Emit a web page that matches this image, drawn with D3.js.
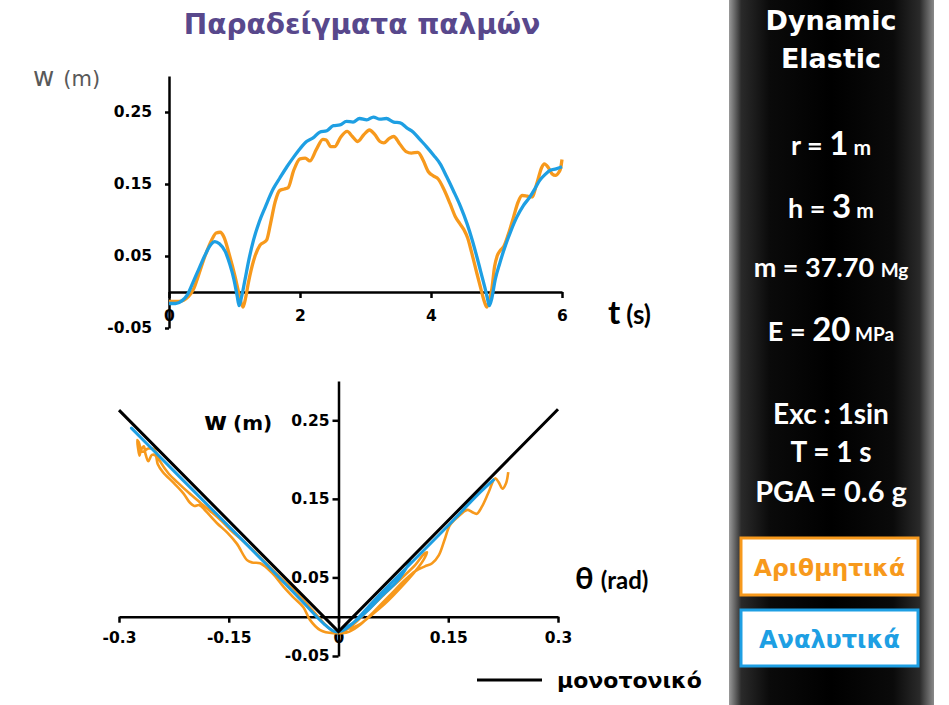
<!DOCTYPE html>
<html>
<head>
<meta charset="utf-8">
<script src="https://cdn.jsdelivr.net/npm/d3@7"></script>
<style>
  html, body { margin: 0; padding: 0; background: #fff; }
  svg { display: block; }
</style>
</head>
<body>
<svg id="chart" width="949" height="705"></svg>
<script>
// ---------- DATA ----------
// Top chart: w(t)
const tAnalytical = [0,0.1,0.2,0.28,0.36,0.47,0.57,0.64,0.70,0.77,0.86,0.93,0.99,1.04,1.07,1.10,1.16,1.22,1.29,1.38,1.47,1.59,1.69,1.80,1.90,2.00,2.10,2.20,2.30,2.41,2.51,2.61,2.71,2.81,2.91,3.02,3.12,3.22,3.32,3.43,3.53,3.63,3.73,3.83,3.93,4.04,4.14,4.24,4.34,4.45,4.55,4.63,4.70,4.76,4.82,4.86,4.89,4.93,4.98,5.05,5.13,5.22,5.31,5.41,5.51,5.59,5.66,5.74,5.82,5.91,6.0];
const wAnalytical = [-0.016,-0.016,-0.012,-0.004,0.012,0.035,0.055,0.066,0.070,0.067,0.056,0.038,0.018,-0.005,-0.019,-0.010,0.017,0.045,0.072,0.098,0.118,0.143,0.158,0.174,0.187,0.199,0.209,0.214,0.222,0.224,0.231,0.232,0.237,0.236,0.241,0.239,0.243,0.240,0.241,0.236,0.235,0.228,0.222,0.212,0.202,0.190,0.178,0.160,0.141,0.119,0.095,0.072,0.049,0.028,0.007,-0.008,-0.019,-0.008,0.017,0.040,0.063,0.085,0.104,0.120,0.132,0.144,0.155,0.163,0.169,0.171,0.174];

const tNumerical = [0,0.15,0.3,0.38,0.45,0.55,0.65,0.72,0.78,0.84,0.92,1.01,1.07,1.13,1.17,1.21,1.31,1.39,1.49,1.55,1.62,1.69,1.76,1.82,1.90,2.00,2.08,2.15,2.25,2.35,2.40,2.47,2.53,2.62,2.72,2.80,2.88,2.97,3.06,3.14,3.22,3.28,3.36,3.43,3.52,3.62,3.70,3.80,3.88,3.96,4.04,4.11,4.20,4.29,4.37,4.44,4.50,4.56,4.62,4.70,4.76,4.81,4.85,4.89,4.93,4.97,5.01,5.06,5.11,5.18,5.26,5.33,5.39,5.47,5.54,5.62,5.69,5.73,5.79,5.85,5.90,5.95,5.98,6.0];
const wNumerical = [-0.013,-0.013,-0.006,0.005,0.023,0.050,0.072,0.082,0.083,0.076,0.052,0.021,-0.003,-0.021,-0.008,0.012,0.049,0.065,0.072,0.095,0.125,0.141,0.143,0.145,0.168,0.185,0.186,0.182,0.198,0.212,0.211,0.202,0.202,0.215,0.223,0.216,0.209,0.218,0.225,0.219,0.209,0.207,0.213,0.216,0.206,0.195,0.193,0.194,0.183,0.167,0.161,0.157,0.142,0.123,0.105,0.095,0.087,0.075,0.055,0.026,0.005,-0.012,-0.021,-0.012,0.005,0.035,0.050,0.058,0.063,0.080,0.104,0.125,0.134,0.133,0.132,0.152,0.173,0.178,0.173,0.164,0.162,0.166,0.172,0.184];

// Bottom chart: w(theta)
const thetaMonotonic = [-0.3, 0, 0.3];
const wMonotonic = [0.263, -0.019, 0.264];

const thetaAnalytical = [0.003,0.02,0.04,0.06,0.08,0.098,0.08,0.06,0.04,0.02,0.005,-0.005,-0.02,-0.05,-0.1,-0.15,-0.2,-0.25,-0.283,-0.25,-0.2,-0.15,-0.1,-0.05,-0.02,-0.005,0.005,0.02,0.05,0.1,0.15,0.19,0.213];
const wThetaAnalytical = [-0.017,-0.008,0.008,0.027,0.045,0.070,0.045,0.027,0.008,-0.008,-0.018,-0.019,-0.009,0.020,0.068,0.115,0.162,0.209,0.240,0.209,0.162,0.115,0.068,0.020,-0.009,-0.019,-0.018,-0.008,0.022,0.069,0.116,0.155,0.175];

const thetaNumerical = [0.004,0.015,0.03,0.045,0.064,0.086,0.105,0.116,0.121,0.117,0.105,0.085,0.062,0.04,0.02,0.005,
  -0.007,-0.025,-0.039,-0.048,-0.062,-0.075,-0.09,-0.107,-0.118,-0.125,-0.139,-0.152,-0.166,-0.18,-0.19,-0.197,-0.203,-0.212,-0.225,-0.24,-0.247,-0.25,-0.255,-0.26,-0.264,-0.266,-0.27,-0.272,-0.274,-0.275,
  -0.273,-0.268,-0.26,-0.252,-0.244,-0.232,-0.22,-0.205,-0.19,-0.176,-0.16,-0.145,-0.13,-0.115,-0.1,-0.085,-0.07,-0.055,-0.04,-0.028,-0.015,-0.005,
  0.005,0.015,0.03,0.05,0.07,0.09,0.105,0.118,0.128,0.137,0.145,0.152,0.163,0.176,0.183,0.189,0.196,0.205,0.214,0.219,0.224,0.229,0.232];
const wThetaNumerical = [-0.014,-0.015,-0.009,0.002,0.017,0.038,0.058,0.072,0.082,0.080,0.066,0.048,0.028,0.008,-0.010,-0.020,
  -0.021,-0.017,-0.004,0.012,0.025,0.038,0.055,0.068,0.069,0.072,0.093,0.107,0.119,0.133,0.142,0.141,0.145,0.157,0.170,0.184,0.194,0.205,0.206,0.198,0.208,0.217,0.212,0.205,0.215,0.225,
  0.222,0.210,0.214,0.213,0.198,0.182,0.171,0.158,0.146,0.135,0.122,0.108,0.096,0.083,0.069,0.055,0.042,0.028,0.013,0.000,-0.013,-0.020,
  -0.021,-0.019,-0.010,0.008,0.027,0.046,0.058,0.064,0.068,0.078,0.098,0.116,0.127,0.136,0.133,0.131,0.140,0.158,0.176,0.171,0.163,0.170,0.184];

const topXTicks = [0, 2, 4, 6];
const topYTicks = [-0.05, 0.05, 0.15, 0.25];
const botXTicks = [-0.3, -0.15, 0, 0.15, 0.3];
const botYTicks = [-0.05, 0.05, 0.15, 0.25];

const title = "Παραδείγματα παλμών";
const legendLabel = "μονοτονικό";
const numericalLabel = "Αριθμητικά";
const analyticalLabel = "Αναλυτικά";

// ---------- STYLE ----------
const ORANGE = "#F7991C";
const BLUE = "#1E9FE3";
const TICKFONT = "'DejaVu Sans', sans-serif";
const TICKSIZE = 15.5;

const svg = d3.select("#chart");

// ---------- Title ----------
svg.append("text").attr("x", 362).attr("y", 34).attr("text-anchor", "middle")
  .attr("font-family", TICKFONT).attr("font-weight", "bold").attr("font-size", 28)
  .attr("fill", "#58488C").text(title);

// ---------- Top chart ----------
const xT = d3.scaleLinear().domain([0, 6]).range([169, 562]);
const yT = d3.scaleLinear().domain([-0.05, 0.3]).range([328, 76]);

function styleAxis(g, fontSize) {
  g.select(".domain").attr("stroke", "#000").attr("stroke-width", 2.5);
  g.selectAll(".tick line").attr("stroke", "#000").attr("stroke-width", 2.5);
  g.selectAll(".tick text").attr("fill", "#000").attr("font-family", TICKFONT)
    .attr("font-weight", "bold").attr("font-size", fontSize);
}

const gTx = svg.append("g").attr("transform", `translate(0,${yT(0)})`)
  .call(d3.axisBottom(xT).tickValues(topXTicks).tickSize(6).tickSizeOuter(0).tickPadding(12).tickFormat(d => String(d)));
styleAxis(gTx, TICKSIZE);
const gTy = svg.append("g").attr("transform", `translate(${xT(0)},0)`)
  .call(d3.axisLeft(yT).tickValues(topYTicks).tickSize(4).tickSizeOuter(0).tickPadding(13).tickFormat(d => String(d)));
styleAxis(gTy, TICKSIZE);

const lineT = d3.line().x(d => xT(d[0])).y(d => yT(d[1])).curve(d3.curveMonotoneX);
svg.append("path").datum(d3.zip(tNumerical, wNumerical)).attr("d", lineT)
  .attr("fill", "none").attr("stroke", ORANGE).attr("stroke-width", 3.3).attr("stroke-linejoin", "round");
svg.append("path").datum(d3.zip(tAnalytical, wAnalytical)).attr("d", lineT)
  .attr("fill", "none").attr("stroke", BLUE).attr("stroke-width", 3.3).attr("stroke-linejoin", "round");

// y label top
const wl1 = svg.append("text").attr("x", 33).attr("y", 86).attr("fill", "#595959")
  .attr("font-family", TICKFONT);
wl1.append("tspan").attr("font-size", 26).text("w");
wl1.append("tspan").attr("font-size", 21).attr("dx", 9).text("(m)");

// x label top
const tl = svg.append("text").attr("x", 608).attr("y", 324).attr("fill", "#000")
  .attr("font-family", "Lato, sans-serif").attr("font-weight", "bold");
tl.append("tspan").attr("font-size", 33).text("t");
tl.append("tspan").attr("font-size", 26).attr("dx", 6).text("(s)");

// ---------- Bottom chart ----------
const xB = d3.scaleLinear().domain([-0.3, 0.3]).range([119, 558]);
const yB = d3.scaleLinear().domain([-0.05, 0.3]).range([656, 381]);

const gBx = svg.append("g").attr("transform", `translate(0,${yB(0)})`)
  .call(d3.axisBottom(xB).tickValues(botXTicks).tickSize(6).tickSizeOuter(0).tickPadding(9).tickFormat(d => String(d)));
styleAxis(gBx, TICKSIZE);
const gBy = svg.append("g").attr("transform", `translate(${xB(0)},0)`)
  .call(d3.axisLeft(yB).tickValues(botYTicks).tickSize(6).tickSizeOuter(0).tickPadding(3).tickFormat(d => String(d)));
styleAxis(gBy, TICKSIZE);

const lineB = d3.line().x(d => xB(d[0])).y(d => yB(d[1])).curve(d3.curveCatmullRom.alpha(0.5));
svg.append("path").datum(d3.zip(thetaNumerical, wThetaNumerical)).attr("d", lineB)
  .attr("fill", "none").attr("stroke", ORANGE).attr("stroke-width", 2.6).attr("stroke-linejoin", "round");
svg.append("path").datum(d3.zip(thetaAnalytical, wThetaAnalytical)).attr("d", lineB)
  .attr("fill", "none").attr("stroke", BLUE).attr("stroke-width", 3).attr("stroke-linejoin", "round");
svg.append("path").datum(d3.zip(thetaMonotonic, wMonotonic))
  .attr("d", d3.line().x(d => xB(d[0])).y(d => yB(d[1])))
  .attr("fill", "none").attr("stroke", "#000").attr("stroke-width", 3);

// y label bottom
const wl2 = svg.append("text").attr("x", 204).attr("y", 430).attr("fill", "#000")
  .attr("font-family", TICKFONT).attr("font-weight", "bold");
wl2.append("tspan").attr("font-size", 25).text("w");
wl2.append("tspan").attr("font-size", 20).attr("dx", 6).text("(m)");

// x label bottom
const thl = svg.append("text").attr("x", 575).attr("y", 589).attr("fill", "#000")
  .attr("font-family", "Lato, sans-serif").attr("font-weight", "bold");
thl.append("tspan").attr("font-size", 31).text("θ");
thl.append("tspan").attr("font-size", 24).attr("dx", 7).text("(rad)");

// legend
svg.append("line").attr("x1", 477).attr("x2", 542).attr("y1", 680).attr("y2", 680)
  .attr("stroke", "#000").attr("stroke-width", 3);
svg.append("text").attr("x", 557).attr("y", 688).attr("font-family", TICKFONT)
  .attr("font-weight", "bold").attr("font-size", 22).attr("fill", "#000").text(legendLabel);

// ---------- Right panel ----------
const defs = svg.append("defs");
const grad = defs.append("linearGradient").attr("id", "panelGrad").attr("x1", "0%").attr("x2", "100%");
[["0%", "#9a9a9a"], ["6%", "#2a2a2a"], ["20%", "#0a0a0a"], ["50%", "#000"], ["80%", "#0a0a0a"], ["93%", "#2a2a2a"], ["100%", "#8a8a8a"]]
  .forEach(([o, c]) => grad.append("stop").attr("offset", o).attr("stop-color", c));
svg.append("rect").attr("x", 729).attr("y", 0).attr("width", 205).attr("height", 705).attr("fill", "url(#panelGrad)");

const PX = 831;
function panelText(y, parts, family) {
  const t = svg.append("text").attr("x", PX).attr("y", y).attr("text-anchor", "middle")
    .attr("fill", "#fff").attr("font-weight", "bold").attr("font-family", family || "Lato, sans-serif");
  parts.forEach(([s, fs]) => t.append("tspan").attr("font-size", fs).text(s));
  return t;
}
panelText(30, [["Dynamic", 27]], TICKFONT);
panelText(68, [["Elastic", 27]], TICKFONT);
panelText(155, [["r = ", 27], ["1", 33], [" m", 21]]);
panelText(218, [["h = ", 27], ["3", 33], [" m", 21]]);
panelText(277, [["m = 37.70 ", 27], ["Mg", 19]]);
panelText(341, [["E = ", 27], ["20", 33], [" MPa", 19]]);
panelText(424, [["Exc : 1sin", 28]]);
panelText(462, [["T = 1 s", 28]]);
panelText(502, [["PGA = 0.6 g", 29]]);

svg.append("rect").attr("x", 741).attr("y", 538).attr("width", 177).attr("height", 57)
  .attr("fill", "#fff").attr("stroke", ORANGE).attr("stroke-width", 3);
svg.append("text").attr("x", 829.5).attr("y", 576).attr("text-anchor", "middle").attr("fill", ORANGE)
  .attr("font-family", TICKFONT).attr("font-weight", "bold").attr("font-size", 23.5).text(numericalLabel);
svg.append("rect").attr("x", 741).attr("y", 610).attr("width", 177).attr("height", 56)
  .attr("fill", "#fff").attr("stroke", BLUE).attr("stroke-width", 3);
svg.append("text").attr("x", 829.5).attr("y", 648).attr("text-anchor", "middle").attr("fill", BLUE)
  .attr("font-family", TICKFONT).attr("font-weight", "bold").attr("font-size", 24).text(analyticalLabel);
</script>
</body>
</html>
